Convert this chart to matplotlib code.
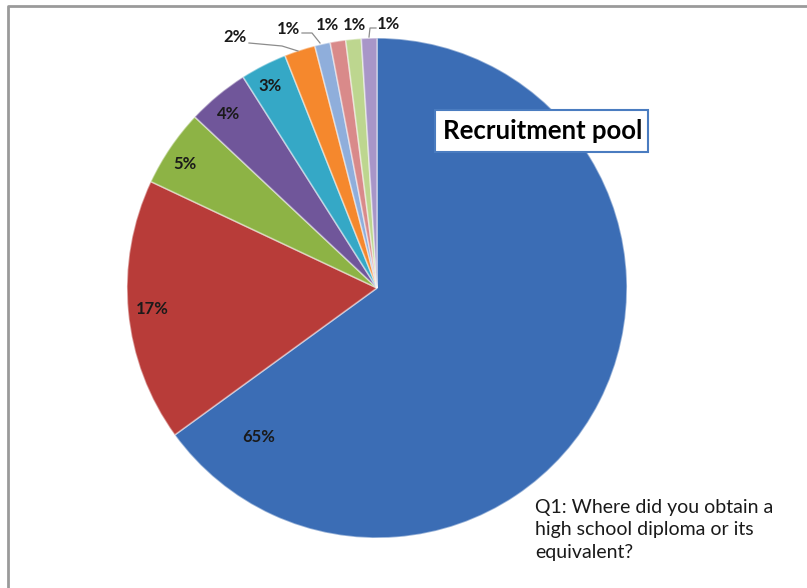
import matplotlib.pyplot as plt
from matplotlib.patches import Rectangle

# share of respondents per answer
shares = [65, 17, 5, 4, 3, 2, 1, 1, 1, 1]
labels = ['65%', '17%', '5%', '4%', '3%', '2%', '1%', '1%', '1%', '1%']
colors = ['#3B6DB5', '#B83C39', '#8DB345', '#70569A', '#35A8C6',
          '#F5882D', '#8FAEDB', '#D98A8A', '#BDD68F', '#A896C8']

# label placement in pixel space (x, y from top-left)
label_pos = [(259, 437), (152, 309), (185, 164), (229, 114), (270, 86),
             (235, 37), (288, 29), (327, 25), (354, 25), (388, 24)]
leaders = [
    [(249, 43), (282, 46), (298, 51)],
    [(302, 33), (312, 33), (320, 43)],
    [(376, 28), (370, 28), (369, 37)],
]

W, H = 807, 588
fig = plt.figure(figsize=(W / 100, H / 100), dpi=100)
ax = fig.add_axes([0, 0, 1, 1])

# y axis runs downward, so counterclock=True in data space is clockwise on screen
ax.pie(shares, colors=colors, startangle=270, counterclock=True,
       center=(377, 288), radius=250, frame=True,
       wedgeprops=dict(edgecolor=(1, 1, 1, 0.45), linewidth=1.2))

ax.set_xlim(0, W)
ax.set_ylim(H, 0)
ax.set_aspect('equal')
ax.axis('off')

# chart frame (only top and left edges fall inside the image)
ax.plot([8, 8, W + 5], [H + 5, 6, 6], color='#9A9A9A', lw=2, solid_capstyle='butt')

for txt, (x, y) in zip(labels, label_pos):
    ax.text(x, y, txt, ha='center', va='center', fontsize=12,
            fontweight='bold', family='Lato', color='#1a1a1a')

for pts in leaders:
    xs, ys = zip(*pts)
    ax.plot(xs, ys, color='#8C8C8C', lw=0.9)

# title box
ax.add_patch(Rectangle((435, 110), 213, 42, facecolor='white',
                       edgecolor='#4A7CC0', lw=1.5, zorder=5))
ax.text(543, 131, 'Recruitment pool', ha='center', va='center',
        fontsize=18.5, fontweight='bold', family='Lato', color='black', zorder=6)

ax.text(535, 499, 'Q1: Where did you obtain a\nhigh school diploma or its\nequivalent?',
        ha='left', va='top', fontsize=14, family='Lato', color='#1a1a1a',
        linespacing=1.38)

fig.savefig('out.png', dpi=100)
